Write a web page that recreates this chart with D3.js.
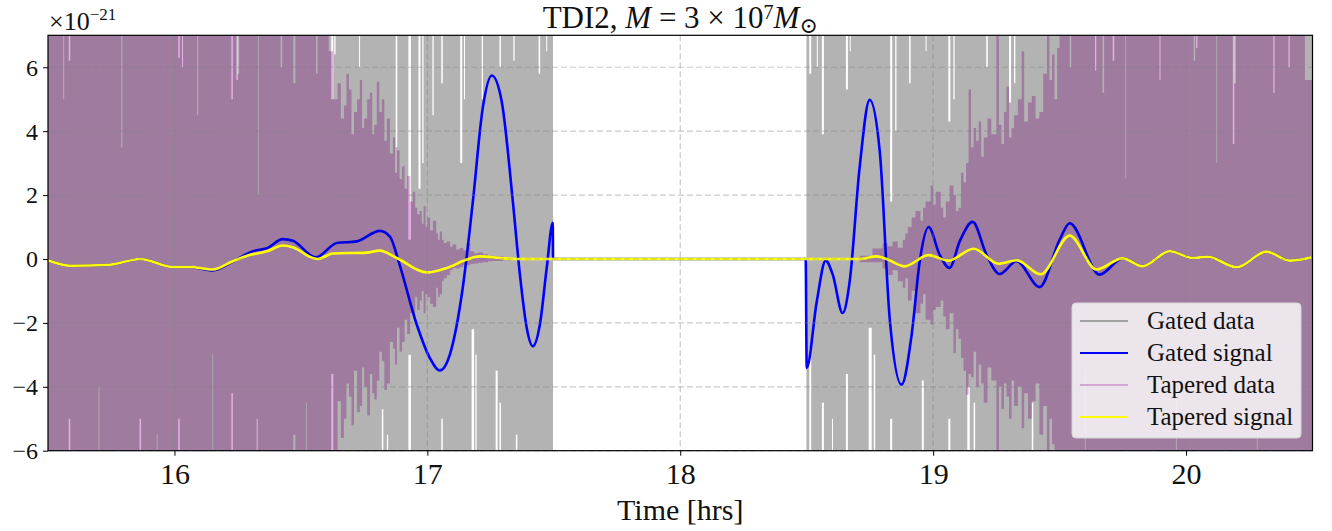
<!DOCTYPE html>
<html>
<head>
<meta charset="utf-8">
<script src="https://cdn.jsdelivr.net/npm/d3@7"></script>
<style>
  body { margin: 0; background: #fff; }
  svg text { font-family: "Liberation Serif", "DejaVu Serif", serif; fill: #111; }
</style>
</head>
<body>
<div id="chart"></div>
<script>
// ---- data (values in units of 1e-21, time in hours) ----
const xTicks = [16, 17, 18, 19, 20];
const yTicks = [-6, -4, -2, 0, 2, 4, 6];

// gated data: spans where the noise runs off the plot, and short spans
// [t0, t1, lower, upper] where it stays inside (white slivers)
const gatedSpans = [[15.5, 17.497], [18.499, 20.5]];
const gatedGaps = [
  [15.582, 15.588, -5.0, 6.2], [15.862, 15.868, -5.0, 7.5], [16.015, 16.021, -5.0, 6.3],
  [16.030, 16.034, -7.5, 6.0], [16.225, 16.231, -4.2, 5.0], [16.245, 16.251, -7.5, 5.6],
  [16.325, 16.329, -5.0, 7.5], [16.620, 16.628, -3.6, 5.0], [16.632, 16.637, -7.5, 6.4],
  [16.730, 16.734, -7.5, 6.0], [16.820, 16.826, -4.7, 7.5], [16.840, 16.845, -5.5, 7.5],
  [16.875, 16.881, -7.5, 3.5], [16.925, 16.935, -3.0, 0.6], [16.965, 16.973, -7.5, 2.2],
  [16.980, 16.985, -7.5, 3.0], [17.020, 17.025, -7.5, 4.5], [17.055, 17.061, -5.0, 5.5],
  [17.100, 17.104, -6.0, 7.5], [17.130, 17.138, -7.5, 3.0], [17.145, 17.149, -7.5, 5.0],
  [17.175, 17.185, -2.2, 7.5], [17.190, 17.195, -3.0, 7.5], [17.215, 17.220, -7.5, 5.0],
  [17.270, 17.278, -3.5, 7.5], [17.285, 17.291, -4.5, 6.0], [17.340, 17.345, -7.5, 6.2],
  [17.350, 17.356, -5.5, 7.5], [17.400, 17.404, -6.0, 7.5], [17.440, 17.446, -6.0, 5.8],
  [17.470, 17.474, -7.5, 6.5],
  [18.510, 18.518, -2.8, 5.8], [18.540, 18.544, -7.5, 6.0], [18.560, 18.568, -4.5, 3.9],
  [18.600, 18.604, -5.0, 7.5], [18.655, 18.663, -3.6, 5.3], [18.670, 18.674, -7.5, 6.5],
  [18.745, 18.757, -2.15, 7.5], [18.765, 18.771, -3.0, 7.5], [18.830, 18.838, -5.0, 1.8],
  [18.850, 18.855, -7.5, 4.0], [18.905, 18.911, -7.5, 5.5], [18.955, 18.963, -3.8, 7.5],
  [18.970, 18.974, -7.5, 6.5], [19.060, 19.068, -5.0, 4.3], [19.080, 19.085, -7.5, 5.0],
  [19.135, 19.145, -4.0, 7.5], [19.160, 19.166, -4.5, 7.5], [19.210, 19.216, -7.5, 6.0],
  [19.300, 19.308, -7.5, 4.9], [19.320, 19.325, -7.5, 5.5], [19.390, 19.396, -4.5, 7.5],
  [19.640, 19.645, -7.5, 5.9], [19.710, 19.716, -7.5, 6.2], [19.895, 19.899, -7.5, 5.6],
  [20.040, 20.045, -7.5, 6.6], [20.185, 20.191, -7.5, 3.6], [20.345, 20.350, -7.5, 5.2],
  [20.405, 20.410, -7.5, 6.0]
];

// tapered data: full-height spans, their slivers, and the taper edges [t, lower, upper]
const taperedSpans = [[15.5, 16.61], [19.5, 20.5]];
const taperedGaps = [
  [15.560, 15.564, -7.5, 5.0], [15.700, 15.703, -4.0, 7.5], [15.790, 15.794, -7.5, 3.5],
  [15.930, 15.933, -5.5, 7.5], [16.090, 16.094, -7.5, 4.5], [16.150, 16.153, -3.0, 7.5],
  [16.250, 16.256, -7.5, 5.8], [16.330, 16.333, -6.0, 2.0], [16.420, 16.426, -7.5, 6.0],
  [16.470, 16.478, -5.5, 5.5], [16.520, 16.523, -4.5, 7.5], [16.560, 16.566, -7.5, 5.8],
  [19.540, 19.546, -7.5, 6.0], [19.600, 19.603, -3.5, 7.5], [19.670, 19.676, -7.5, 5.2],
  [19.760, 19.763, -7.5, 2.5], [19.880, 19.885, -6.0, 7.5], [19.960, 19.963, -4.0, 7.5],
  [20.030, 20.036, -7.5, 6.2], [20.120, 20.123, -7.5, 3.0], [20.190, 20.197, -7.5, 5.5],
  [20.280, 20.283, -5.0, 7.5], [20.470, 20.500, -7.5, 5.6]
];
const taperedEdgeIn = [
  [16.610, -6.0, 6.5], [16.627, -7.5, 5.0], [16.645, -4.45, 5.5], [16.658, -5.6, 4.4],
  [16.670, -5.0, 4.8], [16.680, -3.9, 5.8], [16.690, -4.3, 5.3], [16.700, -5.2, 3.9],
  [16.710, -3.5, 4.6], [16.722, -4.8, 5.0], [16.733, -4.6, 5.6], [16.742, -3.4, 4.1],
  [16.750, -4.0, 4.4], [16.762, -4.9, 5.0], [16.773, -3.6, 5.2], [16.782, -4.2, 3.9],
  [16.790, -4.4, 4.2], [16.800, -3.8, 5.55], [16.810, -2.9, 4.6], [16.820, -3.2, 5.0],
  [16.830, -4.1, 3.7], [16.840, -3.9, 4.4], [16.852, -2.6, 3.3], [16.864, -2.8, 3.8],
  [16.872, -3.3, 2.7], [16.880, -2.15, 3.4], [16.890, -2.9, 2.5], [16.900, -2.6, 2.9],
  [16.910, -1.9, 2.2], [16.920, -2.35, 2.6], [16.932, -1.7, 1.8], [16.943, -1.8, 2.1],
  [16.952, -1.2, 1.6], [16.960, -1.6, 1.4], [16.970, -1.3, 1.5], [16.978, -1.0, 1.1],
  [16.985, -1.7, 1.65], [16.993, -1.1, 1.0], [17.000, -1.2, 1.3], [17.011, -1.4, 0.9],
  [17.022, -1.5, 1.2], [17.035, -0.9, 0.8], [17.042, -1.2, 0.6], [17.049, -1.1, 0.86],
  [17.058, -0.7, 0.6], [17.065, -0.6, 0.5], [17.077, -0.5, 0.55], [17.090, -0.35, 0.38],
  [17.100, -0.28, 0.45], [17.114, -0.3, 0.3], [17.128, -0.25, 0.34], [17.142, -0.18, 0.27],
  [17.156, -0.2, 0.5], [17.170, -0.15, 0.24], [17.185, -0.14, 0.18], [17.200, -0.12, 0.2],
  [17.220, -0.1, 0.15], [17.240, -0.07, 0.1], [17.260, -0.06, 0.08], [17.300, -0.04, 0.03],
  [17.330, 0, 0]
];
const taperedEdgeOut = [
  [18.700, 0, 0], [18.710, -0.1, 0.1], [18.760, -0.1, 0.33], [18.800, -0.3, 0.5],
  [18.820, -0.5, 0.4], [18.840, -0.35, 0.55], [18.860, -0.7, 0.35], [18.880, -0.9, 0.6],
  [18.890, -0.6, 0.8], [18.900, -1.3, 1.0], [18.915, -1.0, 1.3], [18.930, -1.7, 1.5],
  [18.950, -1.4, 1.2], [18.960, -1.1, 1.6], [18.970, -1.9, 1.8], [18.990, -2.05, 2.3],
  [19.000, -1.6, 1.7], [19.010, -1.5, 2.1], [19.030, -1.3, 1.6], [19.040, -1.8, 1.3],
  [19.050, -2.2, 1.8], [19.065, -1.7, 2.3], [19.080, -2.95, 2.0], [19.090, -2.2, 1.5],
  [19.100, -2.5, 1.6], [19.110, -3.1, 2.7], [19.120, -3.5, 2.4], [19.130, -4.25, 3.0],
  [19.140, -3.6, 5.3], [19.150, -3.7, 3.5], [19.160, -2.9, 4.1], [19.170, -4.0, 3.7],
  [19.180, -3.3, 4.3], [19.190, -3.9, 3.2], [19.200, -4.5, 3.8], [19.215, -3.4, 4.4],
  [19.230, -3.8, 3.9], [19.250, -7.5, 7.5], [19.260, -4.0, 4.2], [19.270, -4.7, 3.6],
  [19.280, -3.9, 4.6], [19.290, -4.3, 5.4], [19.300, -5.0, 3.8], [19.310, -3.8, 4.1],
  [19.320, -4.6, 4.5], [19.335, -4.0, 5.0], [19.350, -5.3, 6.5], [19.360, -4.2, 4.3],
  [19.375, -5.0, 4.9], [19.390, -4.45, 5.1], [19.405, -3.9, 4.4], [19.420, -5.5, 4.6],
  [19.435, -4.6, 5.8], [19.450, -7.5, 7.5], [19.460, -5.0, 5.6], [19.470, -5.8, 6.4],
  [19.480, -6.2, 5.0], [19.490, -7.5, 6.6]
];

// gated signal (blue)
const gatedSignal = [
  [15.500, -0.04], [15.587, -0.21], [15.745, -0.18], [15.864, 0.0], [15.994, -0.25],
  [16.061, -0.25], [16.152, -0.36], [16.231, -0.08], [16.310, 0.24], [16.366, 0.34],
  [16.429, 0.62], [16.468, 0.57], [16.559, 0.05], [16.642, 0.50], [16.721, 0.55],
  [16.812, 0.88], [16.852, 0.70], [16.891, -0.20], [16.958, -2.05], [17.010, -3.10],
  [17.049, -3.49], [17.089, -2.99], [17.140, -0.90], [17.180, 1.80], [17.219, 4.72],
  [17.255, 5.74], [17.294, 4.93], [17.338, 1.80], [17.366, -0.49], [17.393, -2.16],
  [17.417, -2.73], [17.445, -2.05], [17.472, -0.28], [17.496, 1.13], [17.497, 0.0],
  [18.496, 0.0], [18.500, -3.41], [18.540, -1.32], [18.575, -0.05], [18.603, -0.49],
  [18.642, -1.69], [18.670, -0.70], [18.709, 2.84], [18.749, 4.98], [18.789, 3.36],
  [18.828, -1.84], [18.875, -3.93], [18.915, -2.37], [18.947, -0.07], [18.982, 1.00],
  [19.026, 0.13], [19.065, -0.28], [19.105, 0.55], [19.156, 1.16], [19.211, 0.13],
  [19.263, -0.47], [19.330, -0.07], [19.421, -0.88], [19.500, 0.60], [19.540, 1.12],
  [19.658, -0.49], [19.749, 0.02], [19.828, -0.23], [19.935, 0.24], [20.026, 0.03],
  [20.085, 0.07], [20.200, -0.26], [20.318, 0.23], [20.409, -0.05], [20.496, 0.05]
];

// tapered signal (yellow)
const taperedSignal = [
  [15.500, -0.04], [15.587, -0.21], [15.745, -0.18], [15.864, 0.0], [15.994, -0.25],
  [16.061, -0.25], [16.152, -0.33], [16.231, -0.07], [16.287, 0.10], [16.366, 0.24],
  [16.429, 0.42], [16.468, 0.37], [16.547, 0.03], [16.567, 0.0], [16.626, 0.17],
  [16.761, 0.20], [16.812, 0.26], [16.879, 0.03], [16.998, -0.42], [17.077, -0.28],
  [17.156, -0.02], [17.208, 0.08], [17.287, 0.03], [17.354, 0.0], [18.709, 0.0],
  [18.777, 0.08], [18.816, 0.0], [18.887, -0.23], [18.982, 0.12], [19.061, -0.05],
  [19.160, 0.32], [19.259, -0.15], [19.330, -0.04], [19.425, -0.48], [19.540, 0.73],
  [19.646, -0.33], [19.749, 0.02], [19.828, -0.23], [19.935, 0.24], [20.026, 0.03],
  [20.085, 0.07], [20.200, -0.26], [20.318, 0.23], [20.409, -0.05], [20.496, 0.05]
];

const legendItems = [
  {label: "Gated data", color: "#a3a3a3"},
  {label: "Gated signal", color: "#0000ff"},
  {label: "Tapered data", color: "#d4a6d4"},
  {label: "Tapered signal", color: "#ffff00"}
];

// turn full spans + slivers into a step envelope [t, lower, upper]
function buildEnvelope(spans, gaps) {
  const env = [];
  spans.forEach(([s0, s1]) => {
    env.push([s0, -7.5, 7.5]);
    gaps.filter(g => g[0] >= s0 && g[0] < s1)
      .sort((a, b) => a[0] - b[0])
      .forEach(([t0, t1, lo, hi]) => {
        env.push([t0, lo, hi]);
        env.push([t1, -7.5, 7.5]);
      });
    env.push([s1, -7.5, 7.5]);
  });
  return env;
}

// ---- layout ----
const W = 1332, H = 531;
const margin = {top: 35.3, right: 19.5, bottom: 80.3, left: 48};
const width = W - margin.left - margin.right;
const height = H - margin.top - margin.bottom;

const svg = d3.select("#chart").append("svg")
  .attr("width", W).attr("height", H);
svg.append("rect").attr("width", W).attr("height", H).attr("fill", "#fff");

const g = svg.append("g")
  .attr("transform", `translate(${margin.left},${margin.top})`);

const x = d3.scaleLinear().domain([15.5, 20.5]).range([0, width]);
const y = d3.scaleLinear().domain([-6, 7]).range([height, 0]);

g.append("clipPath").attr("id", "plot-clip")
  .append("rect").attr("width", width).attr("height", height);

const plot = g.append("g").attr("clip-path", "url(#plot-clip)");

const envArea = d3.area()
  .curve(d3.curveStepAfter)
  .x(d => x(d[0]))
  .y0(d => y(d[1]))
  .y1(d => y(d[2]));

const sigLine = d3.line()
  .curve(d3.curveMonotoneX)
  .x(d => x(d[0]))
  .y(d => y(d[1]));

// gated data
plot.selectAll(".gated").data(gatedSpans.map(s => buildEnvelope([s], gatedGaps)))
  .join("path")
  .attr("class", "gated")
  .attr("d", envArea)
  .attr("fill", "#b3b3b3");
plot.append("line")
  .attr("x1", x(17.497)).attr("x2", x(18.499))
  .attr("y1", y(0)).attr("y2", y(0))
  .attr("stroke", "#a3a3a3").attr("stroke-width", 2);

// gated signal
plot.append("path")
  .datum(gatedSignal)
  .attr("d", sigLine)
  .attr("fill", "none")
  .attr("stroke", "#0000ff")
  .attr("stroke-width", 2.6);

// tapered data (translucent look via multiply)
const taperedPieces = [
  buildEnvelope([taperedSpans[0]], taperedGaps).slice(0, -1).concat(taperedEdgeIn),
  taperedEdgeOut.concat(buildEnvelope([taperedSpans[1]], taperedGaps))
];
plot.selectAll(".tapered").data(taperedPieces)
  .join("path")
  .attr("class", "tapered")
  .attr("d", envArea)
  .attr("fill", "#e3b0e3")
  .style("mix-blend-mode", "multiply");

// tapered signal
plot.append("path")
  .datum(taperedSignal)
  .attr("d", sigLine)
  .attr("fill", "none")
  .attr("stroke", "#ffff00")
  .attr("stroke-width", 2.6);

// grid on top
const grid = g.append("g").attr("class", "grid");
grid.selectAll(".gx").data(xTicks).join("line")
  .attr("x1", d => x(d)).attr("x2", d => x(d))
  .attr("y1", 0).attr("y2", height);
grid.selectAll(".gy").data(yTicks).join("line")
  .attr("x1", 0).attr("x2", width)
  .attr("y1", d => y(d)).attr("y2", d => y(d));
grid.selectAll("line")
  .attr("stroke", "#808080")
  .attr("stroke-opacity", 0.42)
  .attr("stroke-width", 1.2)
  .attr("stroke-dasharray", "6,3");

// axes
const xAxis = d3.axisBottom(x).tickValues(xTicks).tickSize(5).tickPadding(6)
  .tickFormat(d3.format("d"));
const yAxis = d3.axisLeft(y).tickValues(yTicks).tickSize(5).tickPadding(5)
  .tickFormat(d3.format("d"));

const xg = g.append("g").attr("transform", `translate(0,${height})`).call(xAxis);
const yg = g.append("g").call(yAxis);
[xg, yg].forEach(a => {
  a.select(".domain").remove();
  a.selectAll(".tick line").attr("stroke", "#000").attr("stroke-width", 1);
  a.selectAll("text").attr("fill", "#111");
});
xg.selectAll("text").style("font-size", "30px").attr("dy", "0.76em");
yg.selectAll("text").style("font-size", "24px").attr("dy", "0.33em");

// frame
g.append("rect")
  .attr("width", width).attr("height", height)
  .attr("fill", "none").attr("stroke", "#000").attr("stroke-width", 1.2);

// offset text
const off = svg.append("text")
  .attr("x", 49).attr("y", 30)
  .style("font-size", "26px");
off.append("tspan").text("×10");
off.append("tspan").attr("dy", -10).style("font-size", "17px").text("−21");

// title
const title = svg.append("text")
  .attr("x", margin.left + width / 2).attr("y", 28)
  .attr("text-anchor", "middle")
  .style("font-size", "31px");
title.append("tspan").text("TDI2, ");
title.append("tspan").style("font-style", "italic").text("M");
title.append("tspan").text(" = 3 × 10");
title.append("tspan").attr("dy", -9).style("font-size", "20px").text("7");
title.append("tspan").attr("dy", 9).style("font-style", "italic").text("M");
title.append("tspan").attr("dy", 5).style("font-size", "22px").text("⊙");

// x label
svg.append("text")
  .attr("x", margin.left + width / 2).attr("y", 520)
  .attr("text-anchor", "middle")
  .style("font-size", "30px")
  .text("Time [hrs]");

// legend
const lg = g.append("g")
  .attr("transform", `translate(${1072 - margin.left},${303 - margin.top})`);
lg.append("rect")
  .attr("width", 229).attr("height", 135).attr("rx", 4)
  .attr("fill", "#fff").attr("fill-opacity", 0.8)
  .attr("stroke", "#d6d6d6").attr("stroke-width", 1);
const rows = lg.selectAll(".row").data(legendItems).join("g")
  .attr("transform", (d, i) => `translate(0,${18 + i * 32})`);
rows.append("line")
  .attr("x1", 8).attr("x2", 56)
  .attr("stroke", d => d.color).attr("stroke-width", 2.2);
rows.append("text")
  .attr("x", 75).attr("dy", "0.33em")
  .style("font-size", "25px")
  .text(d => d.label);
</script>
</body>
</html>
